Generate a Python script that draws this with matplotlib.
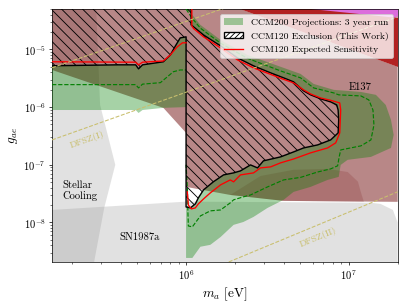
import matplotlib
matplotlib.use("Agg")
import numpy as np
import matplotlib.pyplot as plt
from matplotlib.patches import Patch, PathPatch
from matplotlib.lines import Line2D
from matplotlib.path import Path

plt.rcParams['font.family'] = 'serif'
plt.rcParams['font.serif'] = ['cmr10']
plt.rcParams['mathtext.fontset'] = 'cm'
plt.rcParams['axes.formatter.use_mathtext'] = True

# axis range (eV, coupling)
m_lim = [1.5e5, 2.0e7]
g_lim = [2.07e-9, 5.0e-5]

# stellar cooling bound
stellar_m = [1.5e5, 2.8e5, 2.96e5, 3.67e5, 3.14e5, 2.72e5, 1.5e5]
stellar_g = [5e-5, 5e-5, 1.09e-6, 1.0e-7, 1.8e-8, 2.07e-9, 2.07e-9]

# SN1987a
sn_m = [1.5e5, 1.0e6, 1.37e7, 1.57e7, 1.87e7, 2.0e7, 2.0e7, 1.5e5]
sn_g = [1.65e-8, 2.3e-8, 2.2e-8, 2.1e-8, 1.65e-8, 1.0e-8, 2.07e-9, 2.07e-9]

# E137 beam dump
e137_m = [1.5e5, 2.16e6, 2.0e7, 2.0e7, 3.98e6, 1.87e6, 1.0e6, 1.0e6, 7.25e5, 1.5e5]
e137_g = [5e-5, 5e-5, 5.0e-6, 2.28e-8, 2.37e-8, 3.0e-8, 4.14e-8, 3.57e-7, 9.7e-7, 4.4e-6]
blob_m = [1.87e6, 2.87e6, 4.58e6, 7.42e6, 9.86e6, 1.14e7, 1.19e7, 1.24e7, 3.98e6]
blob_g = [3.0e-8, 6.4e-8, 8.2e-8, 8.5e-8, 7.5e-8, 5.1e-8, 3.3e-8, 2.28e-8, 2.37e-8]

# other beam dumps (top right)
band_m = [2.16e6, 2.0e7, 2.0e7]
band_g = [5e-5, 5e-5, 5.0e-6]
mag_m = [5.83e6, 2.0e7, 2.0e7]
mag_g = [5e-5, 5e-5, 3.5e-5]

# CCM200 projection band
c200L_lo_m = [1.5e5, 4.9e5, 5.1e5, 5.4e5, 7.25e5, 1.0e6]
c200L_lo_g = [8.9e-7, 8.9e-7, 7.9e-7, 8.9e-7, 9.7e-7, 1.0e-6]
c200R_m = [1.0e6, 1.093e6, 1.225e6, 1.63e6, 2.39e6, 3.81e6, 5.06e6, 6.09e6, 8.09e6, 1.19e7,
           1.47e7, 1.69e7, 1.82e7, 1.89e7, 1.82e7, 1.37e7, 9.86e6, 8.93e6, 8.68e6, 7.42e6,
           5.83e6, 4.58e6, 3.98e6, 3.17e6, 2.60e6, 2.25e6, 1.96e6, 1.63e6, 1.41e6, 1.225e6,
           1.093e6, 1.0e6]
c200R_g = [5e-5, 3.96e-5, 2.66e-5, 1.46e-5, 8.0e-6, 5.0e-6, 3.76e-6, 2.52e-6, 1.99e-6, 1.83e-6,
           1.63e-6, 1.09e-6, 6.0e-7, 3.3e-7, 1.96e-7, 1.37e-7, 1.22e-7, 9.95e-8, 6.17e-8, 5.47e-8,
           4.14e-8, 3.39e-8, 2.47e-8, 1.79e-8, 1.25e-8, 1.02e-8, 9.1e-9, 5.6e-9, 4.1e-9, 3.8e-9,
           2.43e-9, 2.43e-9]
c200dL_m = [1.5e5, 4.9e5, 5.1e5, 5.4e5, 6.95e5, 8.35e5, 9.2e5, 1.0e6]
c200dL_g = [2.45e-6, 2.45e-6, 2.15e-6, 2.5e-6, 2.65e-6, 4.1e-6, 4.4e-6, 4.4e-6]
c200dR_m = [1.0e6, 1.089e6, 1.225e6, 1.63e6, 2.38e6, 3.81e6, 5.06e6, 6.09e6, 8.09e6, 8.68e6,
            1.19e7, 1.33e7, 1.41e7, 1.43e7, 1.37e7, 1.19e7, 8.93e6, 8.74e6, 8.55e6, 7.75e6,
            6.44e6, 5.06e6, 3.98e6, 3.17e6, 2.49e6, 2.25e6, 1.96e6, 1.87e6, 1.63e6, 1.41e6,
            1.225e6, 1.093e6, 1.033e6, 1.026e6, 1.02e6, 1.0e6]
c200dR_g = [5e-5, 3.48e-5, 2.33e-5, 1.28e-5, 7.03e-6, 4.24e-6, 3.21e-6, 2.15e-6, 1.76e-6, 1.63e-6,
            1.56e-6, 1.33e-6, 8.9e-7, 4.9e-7, 2.7e-7, 2.13e-7, 1.81e-7, 1.37e-7, 9.6e-8, 8.5e-8,
            7.5e-8, 6.05e-8, 5.47e-8, 4.14e-8, 3.0e-8, 2.78e-8, 2.47e-8, 2.19e-8, 1.65e-8, 1.59e-8,
            1.30e-8, 8.4e-9, 8.7e-9, 1.53e-8, 3.67e-8, 1e-7]

# CCM120 exclusion contour
excl_m = [1.5e5, 3.8e5, 4.9e5, 5.1e5, 5.4e5, 7.25e5, 8.0e5, 8.6e5, 9.2e5, 1.0e6,
          1.0e6, 1.063e6, 1.14e6, 1.19e6, 1.28e6, 1.47e6, 1.70e6, 1.96e6, 2.16e6, 2.49e6,
          2.75e6, 2.99e6, 3.81e6, 4.58e6, 5.28e6, 6.44e6, 7.75e6, 8.61e6,
          8.68e6, 8.61e6, 8.44e6, 7.75e6, 6.72e6, 5.83e6, 5.28e6, 4.58e6, 3.98e6, 3.31e6,
          2.60e6, 2.07e6, 1.63e6, 1.28e6, 1.114e6, 1.074e6, 1.074e6]
excl_g = [5.2e-6, 5.4e-6, 5.4e-6, 4.6e-6, 5.4e-6, 6.1e-6, 8.0e-6, 1.15e-5, 1.58e-5, 1.65e-5,
          1.86e-8, 1.79e-8, 2.1e-8, 2.67e-8, 3.67e-8, 5.06e-8, 6.68e-8, 7.24e-8, 7.84e-8, 9.95e-8,
          8.84e-8, 1.17e-7, 1.37e-7, 1.67e-7, 1.96e-7, 2.21e-7, 2.70e-7, 3.57e-7,
          6.0e-7, 8.93e-7, 1.09e-6, 1.23e-6, 1.39e-6, 1.63e-6, 1.91e-6, 2.74e-6, 3.21e-6, 3.92e-6,
          5.18e-6, 7.13e-6, 1.15e-5, 1.78e-5, 2.45e-5, 2.66e-5, 5e-5]

# CCM120 expected sensitivity
redL_m = [1.5e5, 4.9e5, 5.1e5, 5.4e5, 7.25e5, 8.0e5, 8.8e5, 9.5e5, 1.0e6]
redL_g = [6.1e-6, 6.0e-6, 5.4e-6, 6.0e-6, 6.3e-6, 8.0e-6, 1.1e-5, 1.3e-5, 1.3e-5]
redR_m = [1.018e6, 1.033e6, 1.078e6, 1.14e6, 1.19e6, 1.28e6, 1.41e6, 1.63e6, 1.87e6, 1.96e6,
          2.16e6, 2.60e6, 2.87e6, 3.31e6, 3.81e6, 4.58e6, 5.83e6, 7.42e6, 8.32e6, 8.81e6,
          8.93e6, 8.81e6, 7.75e6, 6.72e6, 5.83e6, 5.28e6, 4.58e6, 3.98e6, 3.31e6, 2.60e6,
          2.07e6, 1.63e6, 1.28e6, 1.11e6, 1.085e6, 1.085e6]
redR_g = [3.4e-8, 2.0e-8, 1.72e-8, 1.79e-8, 2.1e-8, 2.56e-8, 3.26e-8, 4.49e-8, 5.47e-8, 5.06e-8,
          6.68e-8, 7.24e-8, 8.84e-8, 9.2e-8, 1.08e-7, 1.26e-7, 1.61e-7, 1.96e-7, 2.4e-7, 3.57e-7,
          8.93e-7, 1.18e-6, 1.31e-6, 1.44e-6, 1.69e-6, 1.99e-6, 2.63e-6, 3.02e-6, 3.69e-6, 4.78e-6,
          6.58e-6, 1.06e-5, 1.65e-5, 2.31e-5, 2.55e-5, 5e-5]

# DFSZ benchmark lines
dfsz1_m = [1.5e5, 2.0e7]
dfsz1_g = [2.7e-7, 3.66e-5]
dfsz1b_m = [1.5e5, 2.0e6]
dfsz1b_g = [4.8e-6, 6.0e-5]
dfsz2_m = [1.83e6, 2.0e7]
dfsz2_g = [2.07e-9, 3.4e-8]

maroon = (104/255, 0, 0)
green_alpha = 0.35
khaki = '#c9bf6e'


def signed_area(pts):
    l = np.log10(pts)
    x, y = l[:, 0], l[:, 1]
    return 0.5 * np.sum(x * np.roll(y, -1) - np.roll(x, -1) * y)


def ring_path(outer, inner):
    # outer polygon with a hole cut out
    if np.sign(signed_area(outer)) == np.sign(signed_area(inner)):
        inner = inner[::-1]
    verts = np.vstack([outer, outer[:1], inner, inner[:1]])
    codes = ([Path.MOVETO] + [Path.LINETO] * (len(outer) - 1) + [Path.CLOSEPOLY]
             + [Path.MOVETO] + [Path.LINETO] * (len(inner) - 1) + [Path.CLOSEPOLY])
    return Path(verts, codes)


fig = plt.figure(figsize=(6.4, 4.8), dpi=407/6.4)
ax = fig.add_axes([0.128, 0.141, 0.849, 0.8285])
ax.set_xscale('log')
ax.set_yscale('log')

ax.fill(stellar_m, stellar_g, color='#969696', alpha=0.28, lw=0, zorder=1)
ax.fill(sn_m, sn_g, color='#969696', alpha=0.28, lw=0, zorder=1)
ax.fill(e137_m, e137_g, color=maroon, alpha=0.47, lw=0, zorder=2)
ax.fill(blob_m, blob_g, color=maroon, alpha=0.15, lw=0, zorder=2)
ax.fill(band_m, band_g, color='#b22222', lw=0, zorder=2)
ax.fill(mag_m, mag_g, color='#dc6ddc', lw=0, zorder=2)

# CCM200 band (outside the CCM120 exclusion)
ax.fill(excl_m[:10] + c200L_lo_m[::-1], excl_g[:10] + c200L_lo_g[::-1],
        color='green', alpha=green_alpha, lw=0, zorder=3)
outer = np.column_stack([c200R_m, c200R_g])
hole = np.column_stack([excl_m[9:] + [1.0e6], excl_g[9:] + [5e-5]])
ax.add_patch(PathPatch(ring_path(outer, hole), facecolor='green', alpha=green_alpha,
                       lw=0, zorder=3))
ax.plot(c200dL_m, c200dL_g, color='green', ls='--', lw=1.3, zorder=4)
ax.plot(c200dR_m, c200dR_g, color='green', ls='--', lw=1.3, zorder=4)

# CCM120 exclusion
ax.fill(excl_m + [m_lim[0]], excl_g + [g_lim[1]], facecolor='none', edgecolor='black',
        hatch='\\\\', lw=0, zorder=5)
ax.plot(excl_m, excl_g, color='black', lw=1.6, zorder=6)
ax.plot(redL_m, redL_g, color='red', lw=1.5, zorder=6)
ax.plot(redR_m, redR_g, color='red', lw=1.5, zorder=6)

for mm, gg in [(dfsz1_m, dfsz1_g), (dfsz1b_m, dfsz1b_g), (dfsz2_m, dfsz2_g)]:
    ax.plot(mm, gg, color=khaki, ls='--', lw=1.2, zorder=7)

ax.text(2.47e5, 2.7e-7, 'DFSZ(I)', color=khaki, fontsize=11, rotation=19.6,
        ha='center', va='center', zorder=7)
ax.text(6.53e6, 5.62e-9, 'DFSZ(II)', color=khaki, fontsize=11, rotation=22.5,
        ha='center', va='center', zorder=7)
ax.text(1.17e7, 2.24e-6, 'E137', fontsize=12, ha='center', va='center', zorder=7)
ax.text(1.73e5, 3.53e-8, 'Stellar\nCooling', fontsize=12, ha='left', va='center',
        linespacing=1.1, zorder=7)
ax.text(5.16e5, 5.62e-9, 'SN1987a', fontsize=12, ha='center', va='center', zorder=7)

ax.set_xlim(m_lim)
ax.set_ylim(g_lim)
ax.tick_params(labelsize=12)
ax.set_xlabel(r'$m_a$ [eV]', fontsize=15)
ax.set_ylabel(r'$g_{ae}$', fontsize=15)

handles = [Patch(facecolor='green', alpha=green_alpha, edgecolor='none'),
           Patch(facecolor='white', edgecolor='black', hatch='////', lw=1.5),
           Line2D([], [], color='red', lw=1.5)]
labels = ['CCM200 Projections: 3 year run', 'CCM120 Exclusion (This Work)',
          'CCM120 Expected Sensitivity']
leg = ax.legend(handles, labels, loc='upper right', fontsize=11)
leg.set_zorder(10)

fig.savefig('out.png', dpi=fig.dpi)
